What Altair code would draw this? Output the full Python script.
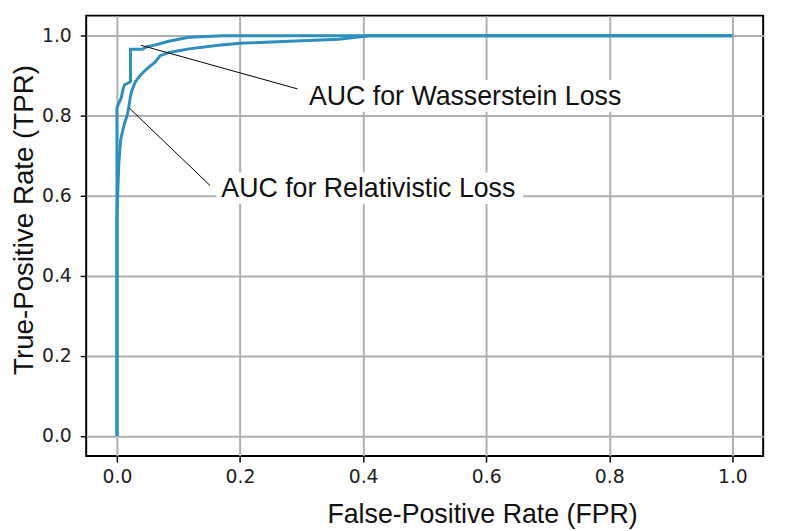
import altair as alt
import pandas as pd

# ROC curve: Wasserstein loss
w_fpr = [0.0, 0.0, 0.004, 0.007, 0.009, 0.012, 0.022, 0.022, 0.041, 0.048, 0.063, 0.084, 0.117, 0.173, 0.3, 0.6, 1.0]
w_tpr = [0.0, 0.82, 0.835, 0.845, 0.86, 0.877, 0.885, 0.966, 0.966, 0.972, 0.977, 0.986, 0.996, 1.0, 1.0, 1.0, 1.0]

# ROC curve: Relativistic loss
r_fpr = [0.0, 0.0, 0.003, 0.006, 0.012, 0.0165, 0.019, 0.021, 0.0235, 0.03, 0.038, 0.049, 0.062, 0.07, 0.085,
         0.117, 0.165, 0.2, 0.28, 0.36, 0.40, 0.41, 0.6, 1.0]
r_tpr = [0.0, 0.55, 0.68, 0.74, 0.78, 0.80, 0.82, 0.84, 0.86, 0.885, 0.901, 0.918, 0.934, 0.95, 0.958,
         0.967, 0.976, 0.981, 0.986, 0.991, 0.998, 1.0, 1.0, 1.0]

# annotations
ann_labels = ["AUC for Wasserstein Loss", "AUC for Relativistic Loss"]
ann_text_x = [0.312, 0.1696]
ann_text_y = [0.8274, 0.5966]
ann_tip_x = [0.0389, 0.0201]
ann_tip_y = [0.976, 0.819]
ann_tail_x = [0.2934, 0.1514]
ann_tail_y = [0.867, 0.6255]

tick_values = [0.0, 0.2, 0.4, 0.6, 0.8, 1.0]

curves = pd.concat([
    pd.DataFrame({"fpr": w_fpr, "tpr": w_tpr, "series": "Wasserstein", "order": range(len(w_fpr))}),
    pd.DataFrame({"fpr": r_fpr, "tpr": r_tpr, "series": "Relativistic", "order": range(len(r_fpr))}),
])
ann = pd.DataFrame({
    "label": ann_labels, "lx": ann_text_x, "ly": ann_text_y,
    "ax": ann_tip_x, "ay": ann_tip_y, "bx": ann_tail_x, "by": ann_tail_y,
})

LINE = "#2d8fbd"
dom = [-0.05, 1.05]

xs = alt.Scale(domain=dom, nice=False, zero=False)
ys = alt.Scale(domain=dom, nice=False, zero=False)

common_axis = dict(
    values=tick_values, format=".1f", grid=True, gridColor="#b0b0b0", gridWidth=2,
    domain=False, tickColor="#000", tickSize=6, tickWidth=1.5,
    labelFont="DejaVu Sans", labelFontSize=19, labelFontWeight="normal", labelColor="#222",
    titleFont="Liberation Sans", titleFontWeight="normal", titleColor="#111",
)

x_axis = alt.Axis(title="False-Positive Rate (FPR)", labelPadding=6, titleFontSize=27,
                  titleX=400, titleY=67, titleAlign="center", titleBaseline="alphabetic",
                  **common_axis)
y_axis = alt.Axis(title="True-Positive Rate (TPR)", labelPadding=9, titleFontSize=28,
                  titleX=-54, titleY=206, titleAngle=270, titleAlign="center",
                  titleBaseline="alphabetic", **common_axis)

lines = alt.Chart(curves).mark_line(color=LINE, strokeWidth=3, clip=True).encode(
    x=alt.X("fpr:Q", scale=xs, axis=x_axis),
    y=alt.Y("tpr:Q", scale=ys, axis=y_axis),
    detail="series:N",
    order="order:Q",
)

base_ann = alt.Chart(ann)

arrows = base_ann.mark_rule(color="#000", strokeWidth=1).encode(
    x=alt.X("ax:Q", scale=xs), y=alt.Y("ay:Q", scale=ys),
    x2="bx:Q", y2="by:Q",
)

box_w = base_ann.transform_filter(alt.datum.label == ann_labels[0]).mark_rect(
    color="white", xOffset=-6, x2Offset=323, yOffset=-25, y2Offset=7
).encode(x=alt.X("lx:Q", scale=xs), x2="lx:Q", y=alt.Y("ly:Q", scale=ys), y2="ly:Q")

box_r = base_ann.transform_filter(alt.datum.label == ann_labels[1]).mark_rect(
    color="white", xOffset=-5, x2Offset=305, yOffset=-25, y2Offset=7
).encode(x=alt.X("lx:Q", scale=xs), x2="lx:Q", y=alt.Y("ly:Q", scale=ys), y2="ly:Q")

texts = base_ann.mark_text(
    align="left", baseline="alphabetic", font="Liberation Sans", fontSize=27, color="#111"
).encode(x=alt.X("lx:Q", scale=xs), y=alt.Y("ly:Q", scale=ys), text="label:N")

chart = alt.layer(lines, arrows, box_w, box_r, texts).properties(
    width=684, height=445,
    background="white",
    padding={"left": 79, "top": 5, "right": 16, "bottom": 73},
    autosize=alt.AutoSizeParams(type="none"),
).configure_view(stroke="#000", strokeWidth=2)

chart.save("out.html", embed_options={"renderer": "svg", "actions": False})
